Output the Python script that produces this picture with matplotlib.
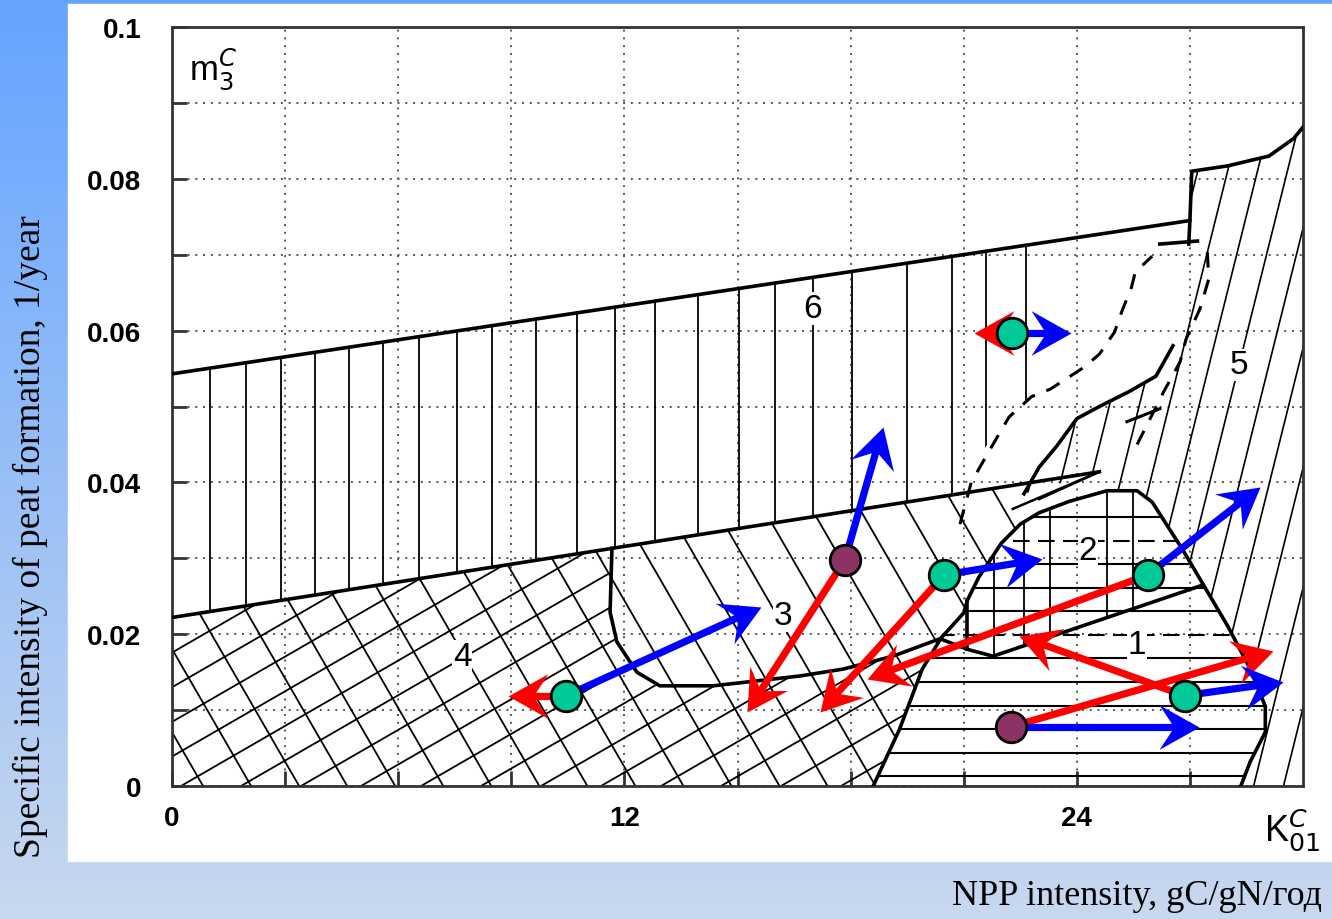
import numpy as np
import matplotlib
matplotlib.use('Agg')
import matplotlib.pyplot as plt
from matplotlib.patches import Polygon, Rectangle
from matplotlib.path import Path
from matplotlib.markers import MarkerStyle
from matplotlib.transforms import Affine2D
from matplotlib.colors import LinearSegmentedColormap

# ---- boundary curves of the regime diagram (x = K01, y = m3) ----
top_x = [0, 27.0, 27.05, 28.0, 29.1, 29.75, 30.0]
top_y = [0.0543, 0.0745, 0.081, 0.0817, 0.083, 0.0853, 0.0868]
mid_x = [0, 24.6]
mid_y = [0.0222, 0.0414]

r3_bottom_x = [11.67, 11.62, 11.8, 12.33, 12.94, 14.35, 15.25, 16.66, 17.8, 19.12, 20.37, 21.1, 21.78, 27.3]
r3_bottom_y = [0.0313, 0.0229, 0.019, 0.015, 0.0132, 0.0132, 0.0137, 0.0145, 0.0154, 0.0171, 0.0194, 0.018, 0.0171, 0.0264]

r1_x = [18.6, 19.3, 19.9, 20.4, 21.0, 21.1, 21.4, 22.0, 22.5, 23.0, 23.8, 24.8, 25.6, 26.0, 26.8, 28.0, 28.6, 29.0, 29.0, 28.6, 28.35]
r1_y = [0.0, 0.0075, 0.0154, 0.0195, 0.0228, 0.0245, 0.0275, 0.032, 0.0345, 0.036, 0.0375, 0.0389, 0.0389, 0.0374, 0.0312, 0.0211, 0.0154, 0.0105, 0.0071, 0.0032, 0.0]

thick_x = [22.6, 23.0, 23.47, 24.0, 24.6, 25.4, 26.1, 26.55]
thick_y = [0.0385, 0.042, 0.0448, 0.0484, 0.050, 0.052, 0.054, 0.058]
dash1_x = [20.9, 21.2, 21.6, 22.2, 22.8, 23.3, 24.2, 24.6, 25.0, 25.2, 25.45, 25.55, 26.0]
dash1_y = [0.0345, 0.040, 0.0435, 0.0486, 0.0513, 0.0523, 0.0552, 0.0569, 0.0598, 0.0626, 0.0657, 0.0677, 0.0698]
dash2_x = [25.6, 26.3, 26.74, 26.9, 27.27, 27.5, 27.45]
dash2_y = [0.045, 0.0519, 0.0559, 0.0589, 0.0629, 0.0668, 0.0715]

# hatch positions
r6_vx = [1.0, 1.95, 2.9, 3.8, 4.7, 5.6, 6.55, 7.55, 8.5, 9.65, 10.75, 11.75, 12.8, 13.95,
         15.05, 16.0, 17.0, 18.05, 19.5, 20.7, 21.6, 22.65]
r1_hy = [0.0013, 0.0044, 0.0075, 0.0106, 0.0137, 0.0168, 0.0199, 0.0230, 0.0261, 0.0292, 0.0323, 0.0354]
r2_vx = [21.8, 22.6, 23.3, 24.8, 25.5]

region_labels = ['1', '2', '3', '4', '5', '6']
label_x = [25.6, 24.3, 16.2, 7.7, 28.3, 17.0]
label_y = [0.0186, 0.031, 0.0224, 0.0171, 0.0555, 0.0629]

# states (circles) and their shifts (arrows)
green_x = [10.46, 20.48, 25.88, 26.86, 22.28]
green_y = [0.0119, 0.0278, 0.0278, 0.0119, 0.0597]
purple_x = [17.85, 22.25]
purple_y = [0.0298, 0.0078]

blue_from = [(10.46, 0.0119), (17.85, 0.0298), (20.48, 0.0278), (25.88, 0.0278),
             (26.86, 0.0119), (22.25, 0.0078), (22.28, 0.0597)]
blue_to = [(15.63, 0.0236), (18.86, 0.0473), (23.07, 0.0299), (28.87, 0.0394),
           (29.48, 0.0137), (27.23, 0.0078), (23.84, 0.0597)]
red_from = [(10.46, 0.0119), (17.85, 0.0298), (20.48, 0.0278), (25.88, 0.0278),
            (26.86, 0.0119), (22.25, 0.0078), (22.28, 0.0597)]
red_to = [(8.9, 0.0119), (15.26, 0.0098), (17.2, 0.0098), (18.44, 0.0141),
          (22.46, 0.0198), (29.2, 0.0178), (21.27, 0.0597)]

fig = plt.figure(figsize=(13.32, 9.2), dpi=100)

# background: blue gradient with white sheet
bg = fig.add_axes([0, 0, 1, 1])
bg.axis('off')
cmap = LinearSegmentedColormap.from_list('bg', ['#64a4ff', '#c8d8ee'])
bg.imshow(np.linspace(0, 1, 256)[:, None], extent=[0, 1, 0, 1], aspect='auto',
          cmap=cmap, origin='upper')
bg.add_patch(Rectangle((68 / 1332, 58 / 920), 1, (915 - 58) / 920, color='white'))
bg.set_xlim(0, 1)
bg.set_ylim(0, 1)

ax = fig.add_axes([172 / 1332, 133 / 920, 1131 / 1332, 759 / 920])
ax.set_xlim(0, 30)
ax.set_ylim(0, 0.1)
ax.set_autoscale_on(False)
ax.set_facecolor('white')


def hatch(poly, angle, spacing, phase=0.0, lw=1.3, ls='-'):
    patch = Polygon(poly, closed=True, fill=False, edgecolor='none')
    ax.add_patch(patch)
    W, H = ax.bbox.width, ax.bbox.height
    a = np.deg2rad(angle)
    d = np.array([np.cos(a), np.sin(a)])
    n = np.array([-np.sin(a), np.cos(a)])
    L = np.hypot(W, H) * 1.2
    for c in np.arange(-L + phase % spacing, L, spacing):
        p0 = c * n - L * d
        p1 = c * n + L * d
        ax.plot([p0[0] / W, p1[0] / W], [p0[1] / H, p1[1] / H], transform=ax.transAxes,
                color='black', lw=lw, ls=ls, clip_path=patch, zorder=2)


def top_at(x):
    return np.interp(x, top_x[:2], top_y[:2])


def mid_at(x):
    return np.interp(x, mid_x, mid_y)


# region 6 : vertical lines
poly6 = [(0, mid_at(0)), (21.0, mid_at(21.0)), (21.5, 0.044), (22.0, 0.048), (22.8, 0.0515),
         (22.8, top_at(22.8)), (0, top_at(0))]
p6 = Polygon(poly6, closed=True, fill=False, edgecolor='none')
ax.add_patch(p6)
for vx in r6_vx:
    ax.plot([vx, vx], [0, 0.1], color='black', lw=1.3, clip_path=p6, zorder=2)

# regions 3+4 : "\" lines ; region 4 : "/" lines as well
poly34 = [(0, 0), (18.6, 0), (19.3, 0.0075), (19.9, 0.0154), (20.4, 0.0195), (21.1, 0.0245),
          (21.4, 0.0275), (22.0, 0.032), (22.5, 0.0345), (22.3, mid_at(22.3)), (0, mid_at(0))]
hatch(poly34, -60, 41.6, phase=39)
poly4 = [(0, 0), (18.6, 0), (19.3, 0.0075), (19.9, 0.0154), (20.37, 0.0194)]
poly4 += list(zip(r3_bottom_x[:11][::-1][1:], r3_bottom_y[:11][::-1][1:]))
poly4 += [(0, mid_at(0))]
hatch(poly4, 30, 30, phase=10)

# region 5 : steep slanted lines
poly5 = [(28.35, 0), (30, 0)] + list(zip(top_x[::-1][:5], top_y[::-1][:5])) + \
        [(27.0, 0.0745), (26.95, 0.0718)] + list(zip(thick_x[::-1], thick_y[::-1])) + \
        [(24.6, 0.0414), (24.8, 0.0389), (25.6, 0.0389), (26.0, 0.0374), (26.8, 0.0312),
         (28.0, 0.0211), (28.6, 0.0154), (29.0, 0.0105), (29.0, 0.0071), (28.6, 0.0032)]
hatch(poly5, 76, 29, phase=5, lw=1.2)

# regions 1 and 2
p1 = Polygon(list(zip(r1_x, r1_y)), closed=True, fill=False, edgecolor='none')
ax.add_patch(p1)
for hy in r1_hy:
    ls = (0, (8, 4)) if hy in (0.0199, 0.0323) else '-'
    ax.plot([15, 30], [hy, hy], color='black', lw=1.5, ls=ls, clip_path=p1, zorder=2)
poly2 = [(21.1, 0.018), (21.78, 0.0171), (27.3, 0.0264), (26.8, 0.0312), (26.0, 0.0374),
         (25.6, 0.0389), (24.8, 0.0389), (23.8, 0.0375), (23.0, 0.036), (22.5, 0.0345),
         (22.0, 0.032), (21.4, 0.0275), (21.1, 0.0245)]
p2 = Polygon(poly2, closed=True, fill=False, edgecolor='none')
ax.add_patch(p2)
for vx in r2_vx:
    ax.plot([vx, vx], [0, 0.05], color='black', lw=1.3, clip_path=p2, zorder=2)

# boundaries
bk = dict(color='black', lw=2.6, zorder=3, solid_joinstyle='round')
ax.plot(top_x, top_y, **bk)
ax.plot(mid_x, mid_y, **bk)
ax.plot([26.2, 27.2], [0.0714, 0.0718], **bk)
ax.plot([27.0, 26.97], [0.0745, 0.0714], **bk)
ax.plot(r3_bottom_x, r3_bottom_y, **bk)
ax.plot([21.1, 21.1], [0.018, 0.0245], **bk)
ax.plot(r1_x, r1_y, **bk)
ax.plot(thick_x, thick_y, **bk)
ax.plot([22.3, 24.6], [0.0365, 0.0414], color='black', lw=1.8, zorder=3)
ax.plot([23.0, 24.6], [0.0378, 0.0414], color='black', lw=1.8, zorder=3)
ax.plot([25.33, 26.2], [0.048, 0.0497], color='black', lw=2.2, zorder=3)
ax.plot(dash1_x, dash1_y, color='black', lw=2.2, ls=(0, (5, 4)), zorder=3)
ax.plot(dash2_x, dash2_y, color='black', lw=2.2, ls=(0, (5, 4)), zorder=3)

for t, lx, ly in zip(region_labels, label_x, label_y):
    ax.text(lx, ly, t, fontsize=24, family='Liberation Sans', ha='center', va='center',
            zorder=4, bbox=dict(facecolor='white', edgecolor='none', pad=0.5))


def arrow(start, end, color):
    p0 = ax.transData.transform(start)
    p1 = ax.transData.transform(end)
    d = p1 - p0
    u = d / np.hypot(*d)
    head_px = 40
    pe = ax.transData.inverted().transform(p1 - u * 0.6 * head_px)
    ax.plot([start[0], pe[0]], [start[1], pe[1]], color=color, lw=5.2,
            solid_capstyle='butt', zorder=5)
    verts = [(0, 0), (-1.0, 0.56), (-0.63, 0), (-1.0, -0.56), (0, 0)]
    codes = [Path.MOVETO, Path.LINETO, Path.LINETO, Path.LINETO, Path.CLOSEPOLY]
    m = MarkerStyle(Path(verts, codes), transform=Affine2D().rotate(np.arctan2(d[1], d[0])))
    ax.plot([end[0]], [end[1]], marker=m, ms=head_px * 0.72 * 2, color=color,
            mew=0, ls='none', zorder=5)


for s, e in zip(red_from, red_to):
    arrow(s, e, '#ff0000')
for s, e in zip(blue_from, blue_to):
    arrow(s, e, '#0000ff')

ax.plot(green_x, green_y, 'o', ms=22, mfc='#00c896', mec='black', mew=2, zorder=7)
ax.plot(purple_x, purple_y, 'o', ms=22, mfc='#8c3264', mec='black', mew=2, zorder=7)

# axes, ticks, grid
ax.set_xticks([0, 12, 24])
ax.set_xticks([3, 6, 9, 15, 18, 21, 27], minor=True)
ax.set_xticklabels(['0', '12', '24'])
ax.set_yticks([0, 0.02, 0.04, 0.06, 0.08, 0.1])
ax.set_yticks([0.01, 0.03, 0.05, 0.07, 0.09], minor=True)
ax.set_yticklabels(['0', '0.02', '0.04', '0.06', '0.08', '0.1'])
ax.tick_params(which='both', direction='in', length=11, width=2, color='#333')
ax.tick_params(axis='y', pad=22)
ax.tick_params(axis='x', pad=14)
for lbl in ax.get_xticklabels() + ax.get_yticklabels():
    lbl.set_fontfamily('Liberation Sans')
    lbl.set_fontweight('bold')
    lbl.set_fontsize(20)
ax.grid(which='both', color='#555555', lw=1.4, ls=(0, (1, 3)), zorder=1)
ax.set_axisbelow(True)
for sp in ax.spines.values():
    sp.set_linewidth(2)
    sp.set_color('#333333')

ax.text(0.015, 0.975, r'm$_3^C$', transform=ax.transAxes, fontsize=25,
        family='Liberation Sans', ha='left', va='top')
ax.text(0.99, -0.057, r'K$_{01}^{C}$', transform=ax.transAxes, fontsize=26,
        family='Liberation Sans', ha='center', va='center')

fig.text(0.0225, 0.417, 'Specific intensity of peat formation, 1/year', rotation=90,
         family='Liberation Serif', fontsize=27, ha='center', va='center')
fig.text(952 / 1332, 0.025, 'NPP intensity, gC/gN/год', family='Liberation Serif',
         fontsize=26, ha='left', va='center')

fig.savefig('out.png', dpi=100)
